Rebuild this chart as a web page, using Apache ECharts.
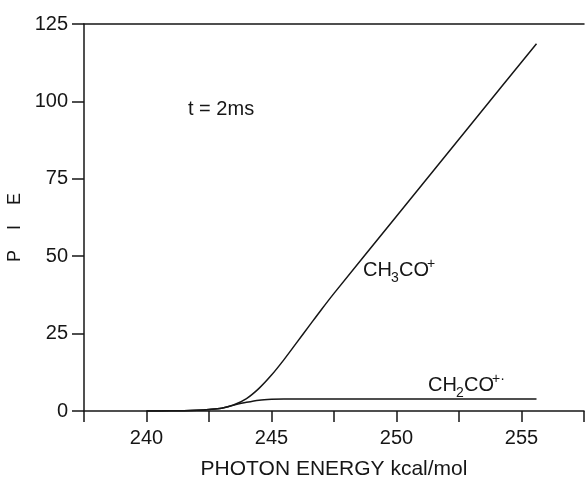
<!DOCTYPE html>
<html>
<head>
<meta charset="utf-8">
<script src="https://cdn.jsdelivr.net/npm/echarts@6/dist/echarts.min.js"></script>
<style>
  html, body { margin: 0; padding: 0; background: #fff; }
  #chart { width: 585px; height: 479px; }
</style>
</head>
<body>
<div id="chart"></div>
<script>
// photon energy (kcal/mol) sample points
var energy = [240, 241, 241.5, 242, 242.5, 243, 243.5, 244, 244.5, 245, 245.5, 246, 246.5, 247, 247.5, 250, 253, 255.6];
var ch3co = [0, 0.05, 0.1, 0.25, 0.5, 0.9, 2.0, 4.0, 7.3, 11.6, 16.6, 22.0, 27.4, 32.8, 38.0, 62.9, 92.8, 118.6];
var ch2co = [0, 0.05, 0.1, 0.25, 0.5, 0.9, 1.9, 2.8, 3.5, 3.8, 3.9, 3.9, 3.9, 3.9, 3.9, 3.9, 3.9, 3.9];
var xTicks = [240, 245, 250, 255];
var yTicks = [0, 25, 50, 75, 100, 125];

var ink = '#161616';
var font = '"Liberation Sans", Arial, sans-serif';

function pairs(xs, ys) {
    return xs.map(function (x, i) { return [x, ys[i]]; });
}

var chart = echarts.init(document.getElementById('chart'));

chart.setOption({
    backgroundColor: '#fff',
    animation: false,
    grid: { left: 84, right: 1, top: 24, bottom: 68, outerBoundsMode: 'none', containLabel: false },
    xAxis: [{
        type: 'value',
        min: 237.5,
        max: 257.5,
        interval: 2.5,
        name: 'PHOTON ENERGY kcal/mol',
        nameLocation: 'middle',
        nameGap: 48,
        nameTextStyle: { color: ink, fontSize: 21, fontFamily: font },
        axisLine: { lineStyle: { color: ink, width: 1.5 } },
        axisTick: { length: 11, lineStyle: { color: ink, width: 1.5 } },
        axisLabel: {
            margin: 17,
            color: ink,
            fontSize: 20,
            fontFamily: font,
            formatter: function (v) { return xTicks.indexOf(v) >= 0 ? String(v) : ''; }
        },
        splitLine: { show: false }
    }, {
        type: 'value',
        position: 'top',
        min: 237.5,
        max: 257.5,
        axisLine: { show: true, onZero: false, lineStyle: { color: ink, width: 1.5 } },
        axisTick: { show: false },
        axisLabel: { show: false },
        splitLine: { show: false }
    }],
    yAxis: {
        type: 'value',
        min: 0,
        max: 125,
        interval: 25,
        name: 'P    I    E',
        nameLocation: 'middle',
        nameRotate: 90,
        nameGap: 57,
        nameTextStyle: { color: ink, fontSize: 18, fontFamily: font, padding: [0, 20, 0, 0] },
        axisLine: { show: true, lineStyle: { color: ink, width: 1.5 } },
        axisTick: { length: 12, lineStyle: { color: ink, width: 1.5 } },
        axisLabel: {
            margin: 16,
            color: ink,
            fontSize: 20,
            fontFamily: font,
            formatter: function (v) { return yTicks.indexOf(v) >= 0 ? String(v) : ''; }
        },
        splitLine: { show: false }
    },
    series: [{
        name: 'CH3CO+',
        type: 'line',
        smooth: 0.3,
        symbol: 'none',
        lineStyle: { color: ink, width: 1.5 },
        data: pairs(energy, ch3co)
    }, {
        name: 'CH2CO+',
        type: 'line',
        smooth: 0.3,
        symbol: 'none',
        lineStyle: { color: ink, width: 1.5 },
        data: pairs(energy, ch2co)
    }],
    graphic: [{
        type: 'text',
        left: 188,
        top: 99,
        style: { text: 't = 2ms', fill: ink, font: '20px ' + font }
    }, {
        type: 'group',
        left: 363,
        top: 257,
        children: [
            { type: 'text', x: 0, y: 3, style: { text: 'CH', fill: ink, font: '20px ' + font } },
            { type: 'text', x: 28, y: 14, style: { text: '3', fill: ink, font: '14px ' + font } },
            { type: 'text', x: 36, y: 3, style: { text: 'CO', fill: ink, font: '20px ' + font } },
            { type: 'text', x: 64, y: 0, style: { text: '+', fill: ink, font: '14px ' + font } }
        ]
    }, {
        type: 'group',
        left: 428,
        top: 372,
        children: [
            { type: 'text', x: 0, y: 3, style: { text: 'CH', fill: ink, font: '20px ' + font } },
            { type: 'text', x: 28, y: 14, style: { text: '2', fill: ink, font: '14px ' + font } },
            { type: 'text', x: 36, y: 3, style: { text: 'CO', fill: ink, font: '20px ' + font } },
            { type: 'text', x: 64, y: 0, style: { text: '+·', fill: ink, font: '14px ' + font } }
        ]
    }]
});
</script>
</body>
</html>
